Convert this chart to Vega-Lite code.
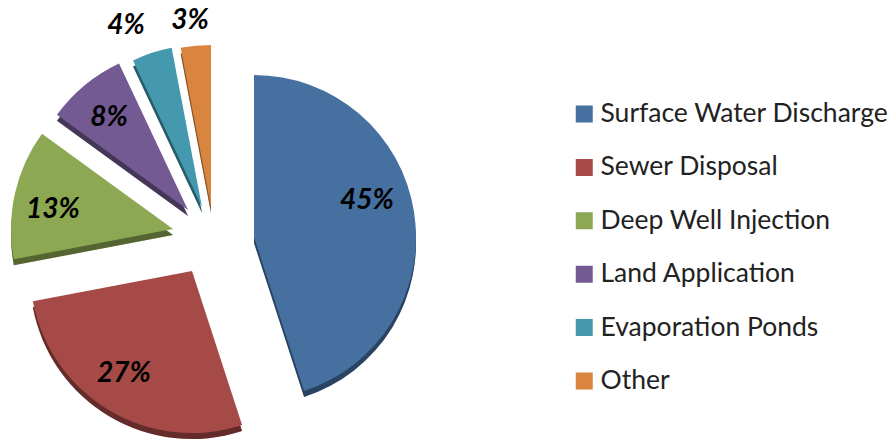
{
"$schema":"https://vega.github.io/schema/vega-lite/v6.json",
"width":895,"height":441,"padding":0,"autosize":"none",
"background":"white",
"config":{"view":{"stroke":null}},
"data":{"values":[
{"category":"Surface Water Discharge","share":45,"start":0,"end":45,"apexX":254,"apexY":237,"labelX":367,"labelY":201},
{"category":"Sewer Disposal","share":27,"start":45,"end":72,"apexX":192,"apexY":271,"labelX":124,"labelY":374},
{"category":"Deep Well Injection","share":13,"start":72,"end":85,"apexX":173,"apexY":229,"labelX":53,"labelY":210},
{"category":"Land Application","share":8,"start":85,"end":93,"apexX":188,"apexY":210,"labelX":109,"labelY":118},
{"category":"Evaporation Ponds","share":4,"start":93,"end":97,"apexX":202,"apexY":207,"labelX":126,"labelY":26},
{"category":"Other","share":3,"start":97,"end":100,"apexX":211,"apexY":207,"labelX":190,"labelY":21}
]},
"encoding":{
"x":{"field":"apexX","type":"quantitative","scale":{"domain":[0,895],"range":[0,895]},"axis":null},
"y":{"field":"apexY","type":"quantitative","scale":{"domain":[0,441],"range":[0,441]},"axis":null}
},
"layer":[
{"mark":{"type":"arc","radius":162,"yOffset":6},
 "encoding":{
 "theta":{"field":"start","type":"quantitative","scale":{"domain":[0,100],"range":[0,6.28319]}},
 "theta2":{"field":"end"},
 "color":{"field":"category","type":"nominal","sort":null,
  "scale":{"domain":["Surface Water Discharge","Sewer Disposal","Deep Well Injection","Land Application","Evaporation Ponds","Other"],"range":["#4570A0","#A64A48","#8CA853","#735A93","#4499AF","#D9853F"]},
  "legend":{"title":null,"orient":"none","legendX":571,"legendY":99,"symbolType":"square","symbolSize":289,"symbolStrokeWidth":0,"labelFontSize":26.5,"labelFont":"Lato","labelColor":"#222222","rowPadding":23.4,"labelOffset":3,"labelLimit":320,"clipHeight":30}}
 }},
{"mark":{"type":"arc","radius":162,"yOffset":6,"fill":"#000000","opacity":0.4},
 "encoding":{
 "theta":{"field":"start","type":"quantitative","scale":{"domain":[0,100],"range":[0,6.28319]}},
 "theta2":{"field":"end"}
 }},
{"mark":{"type":"arc","radius":162},
 "encoding":{
 "theta":{"field":"start","type":"quantitative","scale":{"domain":[0,100],"range":[0,6.28319]}},
 "theta2":{"field":"end"},
 "color":{"field":"category","type":"nominal","sort":null}
 }},
{"transform":[{"calculate":"datum.share + '%'","as":"label"}],
 "mark":{"type":"text","font":"Lato","fontSize":28,"fontWeight":"bold","fontStyle":"italic","color":"#000000","align":"center","baseline":"middle"},
 "encoding":{
 "x":{"field":"labelX","type":"quantitative"},
 "y":{"field":"labelY","type":"quantitative"},
 "text":{"field":"label"}
 }}
]
}
